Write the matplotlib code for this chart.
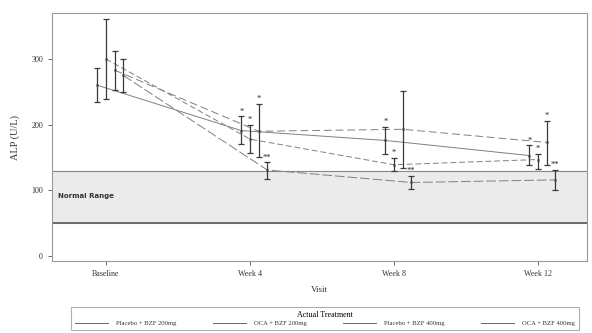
import numpy as np
import matplotlib
matplotlib.use('Agg')
import matplotlib.pyplot as plt
from matplotlib.lines import Line2D

visits = ['Baseline', 'Week 4', 'Week 8', 'Week 12']
treatments = ['Placebo + BZF 200mg', 'OCA + BZF 200mg', 'Placebo + BZF 400mg', 'OCA + BZF 400mg']

# mean ALP and error bar ends, per treatment
mean_p200 = [260, 191, 176, 153]
lo_p200 = [235, 170, 156, 138]
hi_p200 = [286, 213, 197, 169]
star_p200 = ['', '*', '*', '*']

mean_o200 = [300, 178, 139, 147]
lo_o200 = [239, 157, 129, 133]
hi_o200 = [361, 200, 150, 156]
star_o200 = ['', '*', '*', '*']

mean_p400 = [283, 190, 193, 173]
lo_p400 = [253, 151, 134, 138]
hi_p400 = [312, 232, 251, 206]
star_p400 = ['', '*', '', '*']

mean_o400 = [275, 131, 112, 116]
lo_o400 = [250, 118, 102, 100]
hi_o400 = [300, 143, 122, 131]
star_o400 = ['', '**', '**', '**']

normal_low = 50
normal_high = 130

means = [mean_p200, mean_o200, mean_p400, mean_o400]
los = [lo_p200, lo_o200, lo_p400, lo_o400]
his = [hi_p200, hi_o200, hi_p400, hi_o400]
stars = [star_p200, star_o200, star_p400, star_o400]
offsets = [-0.06, 0.0, 0.06, 0.12]
styles = ['-', (0, (6, 3)), (0, (8, 4)), (0, (10, 3))]

plt.rcParams['font.family'] = ['Liberation Serif', 'DejaVu Serif']

fig = plt.figure(figsize=(5.92, 3.33), dpi=100)
ax = fig.add_axes([52/592, 1-261/333, (587-52)/592, (261-13)/333])

ax.axhspan(normal_low, normal_high, color='#ebebeb', zorder=0)
ax.axhline(normal_high, color='#8a8a8a', lw=0.8, zorder=1)
ax.axhline(normal_low, color='#555555', lw=1.2, zorder=1)
ax.text(-0.33, 92, 'Normal Range', fontsize=5, fontweight='bold',
        family='DejaVu Sans', color='#333333', va='center')

x = np.arange(len(visits))
handles = []
for i in range(4):
    xs = x + offsets[i]
    m = np.array(means[i])
    lo = np.array(los[i])
    hi = np.array(his[i])
    ax.plot(xs, m, color='#808080', lw=0.7, linestyle=styles[i], zorder=2)
    ax.plot(xs, m, 'o', ms=1.6, mfc='none', mec='#666666', mew=0.5, zorder=3)
    ax.errorbar(xs, m, yerr=[m - lo, hi - m], fmt='none', ecolor='#3a3a3a',
                elinewidth=0.9, capsize=2.5, capthick=0.9, zorder=4)
    for j in range(len(visits)):
        if stars[i][j]:
            ax.text(xs[j], hi[j] + 1, stars[i][j], ha='center', va='bottom',
                    fontsize=6, color='#222222')
    handles.append(Line2D([0], [0], color='#666666', lw=0.7))

ax.set_xlim(-0.375, 3.34)
ax.set_ylim(-7.5, 370)
ax.set_xticks(x)
ax.set_xticklabels(visits)
ax.set_yticks([0, 100, 200, 300])
ax.tick_params(axis='both', labelsize=5.8, colors='#555555', labelcolor='#333333',
               length=3, width=0.6, direction='out')
ax.set_xlabel('Visit', fontsize=6.5, color='#333333', labelpad=6)
ax.set_ylabel('ALP (U/L)', fontsize=7.5, color='#333333', labelpad=8)
for s in ax.spines.values():
    s.set_color('#9a9a9a')
    s.set_linewidth(0.8)

leg = fig.legend(handles, treatments, loc='lower left', ncol=4, mode='expand',
                 bbox_to_anchor=(68/592, 0, 514/592, 29/333),
                 title='Actual Treatment', fontsize=4.8, title_fontsize=5.8,
                 handlelength=5, frameon=True, fancybox=False, borderpad=0.55,
                 labelspacing=0.2, handletextpad=1.2)
leg.get_frame().set_edgecolor('#9a9a9a')
leg.get_frame().set_linewidth(0.8)
for t in leg.get_texts():
    t.set_color('#333333')

fig.savefig('out.png', dpi=100)
